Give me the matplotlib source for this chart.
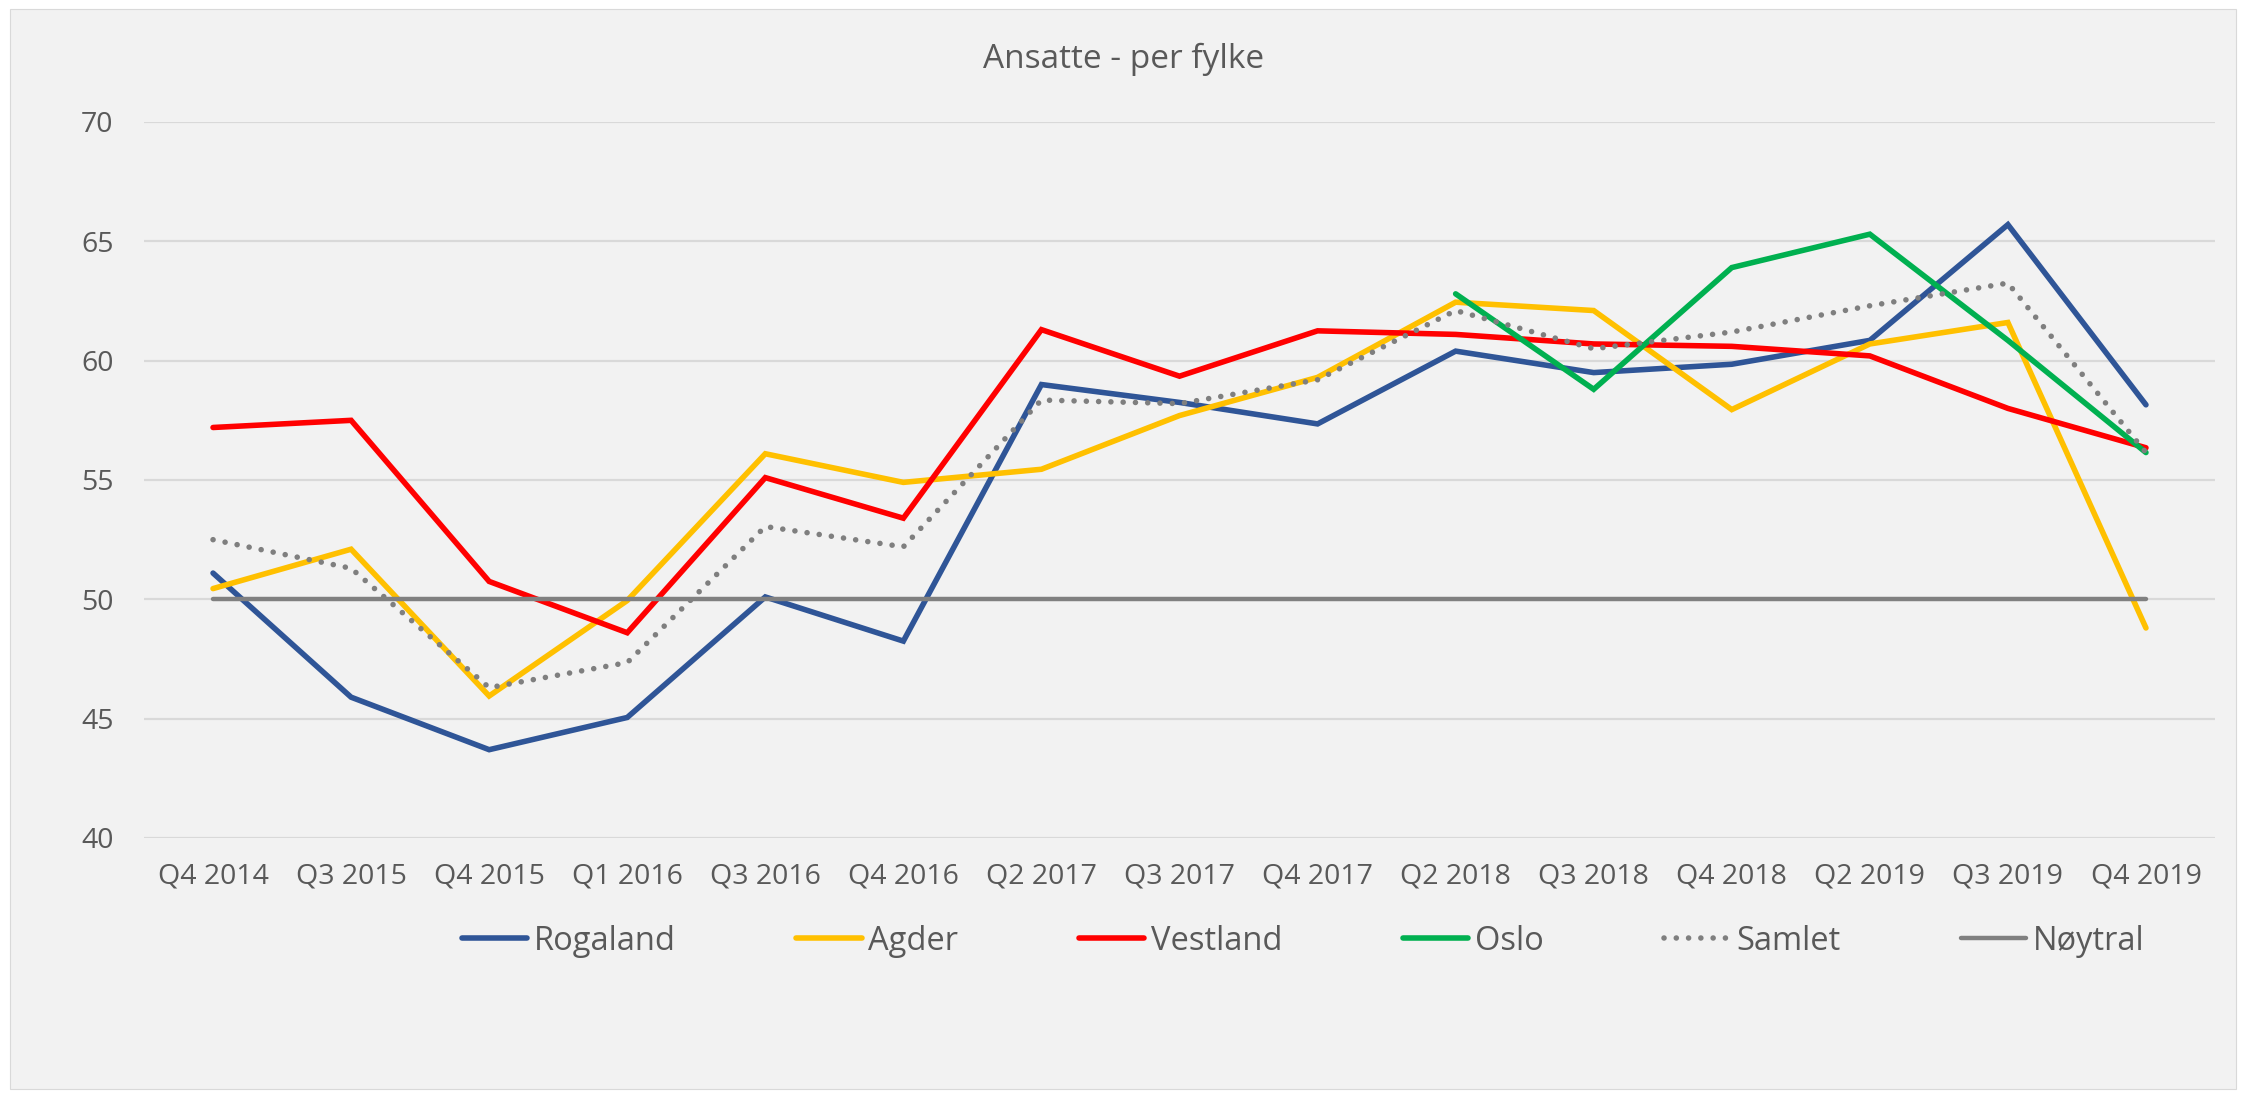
import numpy as np
import matplotlib
matplotlib.use('Agg')
import matplotlib.pyplot as plt
from matplotlib.patches import Rectangle

plt.rcParams['font.family'] = ['Open Sans', 'DejaVu Sans']

# data
quarters = ['Q4 2014', 'Q3 2015', 'Q4 2015', 'Q1 2016', 'Q3 2016', 'Q4 2016', 'Q2 2017',
            'Q3 2017', 'Q4 2017', 'Q2 2018', 'Q3 2018', 'Q4 2018', 'Q2 2019', 'Q3 2019', 'Q4 2019']
rogaland = [51.1, 45.9, 43.7, 45.05, 50.1, 48.25, 59.0, 58.25, 57.35, 60.4, 59.5, 59.85, 60.85, 65.7, 58.15]
agder = [50.45, 52.1, 45.95, 49.95, 56.1, 54.9, 55.45, 57.7, 59.3, 62.45, 62.1, 57.95, 60.7, 61.6, 48.8]
vestland = [57.2, 57.5, 50.75, 48.6, 55.1, 53.4, 61.3, 59.35, 61.25, 61.1, 60.7, 60.6, 60.2, 58.0, 56.35]
oslo = [np.nan] * 9 + [62.8, 58.8, 63.9, 65.3, 60.85, 56.15]
samlet = [52.5, 51.3, 46.3, 47.35, 53.05, 52.2, 58.35, 58.2, 59.2, 62.1, 60.5, 61.2, 62.3, 63.25, 56.15]
noytral = [50] * 15

series = [
    ('Rogaland', rogaland, '#2F5597', '-'),
    ('Agder', agder, '#FFC000', '-'),
    ('Vestland', vestland, '#FF0000', '-'),
    ('Oslo', oslo, '#00B050', '-'),
    ('Samlet', samlet, '#7F7F7F', (0, (0.01, 2.2))),
    ('Nøytral', noytral, '#808080', '-'),
]

fig = plt.figure(figsize=(22.47, 10.98), dpi=100, facecolor='white')
bg = Rectangle((10 / 2247, 9 / 1098), 2226 / 2247, 1080 / 1098,
               transform=fig.transFigure, facecolor='#F2F2F2',
               edgecolor='#D9D9D9', lw=0.8, zorder=-10)
fig.patches.append(bg)

ax = fig.add_axes([144 / 2247, 1 - 838 / 1098, (2215 - 144) / 2247, (838 - 122) / 1098])
ax.set_facecolor('none')

x = np.arange(len(quarters))
for name, vals, col, ls in series:
    lw = 3.2 if name == 'Nøytral' else 4.0
    ax.plot(x, vals, color=col, lw=lw, ls=ls, label=name,
            solid_capstyle='round', dash_capstyle='round', solid_joinstyle='miter')

ax.set_xlim(-0.5, len(quarters) - 0.5)
ax.set_ylim(40, 70)
ax.set_yticks(np.arange(40, 71, 5))
ax.set_xticks(x)
ax.set_xticklabels(quarters)
ax.grid(axis='y', color='#D9D9D9', lw=1.6)
ax.set_axisbelow(True)
for s in ax.spines.values():
    s.set_visible(False)
ax.tick_params(axis='both', length=0, labelsize=20.5, labelcolor='#595959')
ax.tick_params(axis='x', pad=18)
ax.tick_params(axis='y', pad=22)

fig.text(0.5, 1 - 59 / 1098, 'Ansatte - per fylke', ha='center', va='center',
         fontsize=24, color='#595959')

fig.legend(loc='center', bbox_to_anchor=(0.58, 1 - 941 / 1098), ncol=6, frameon=False,
           fontsize=23.5, labelcolor='#595959', handlelength=2.0, handletextpad=0.2,
           columnspacing=3.7)

fig.savefig('out.png', dpi=100, facecolor='white')
